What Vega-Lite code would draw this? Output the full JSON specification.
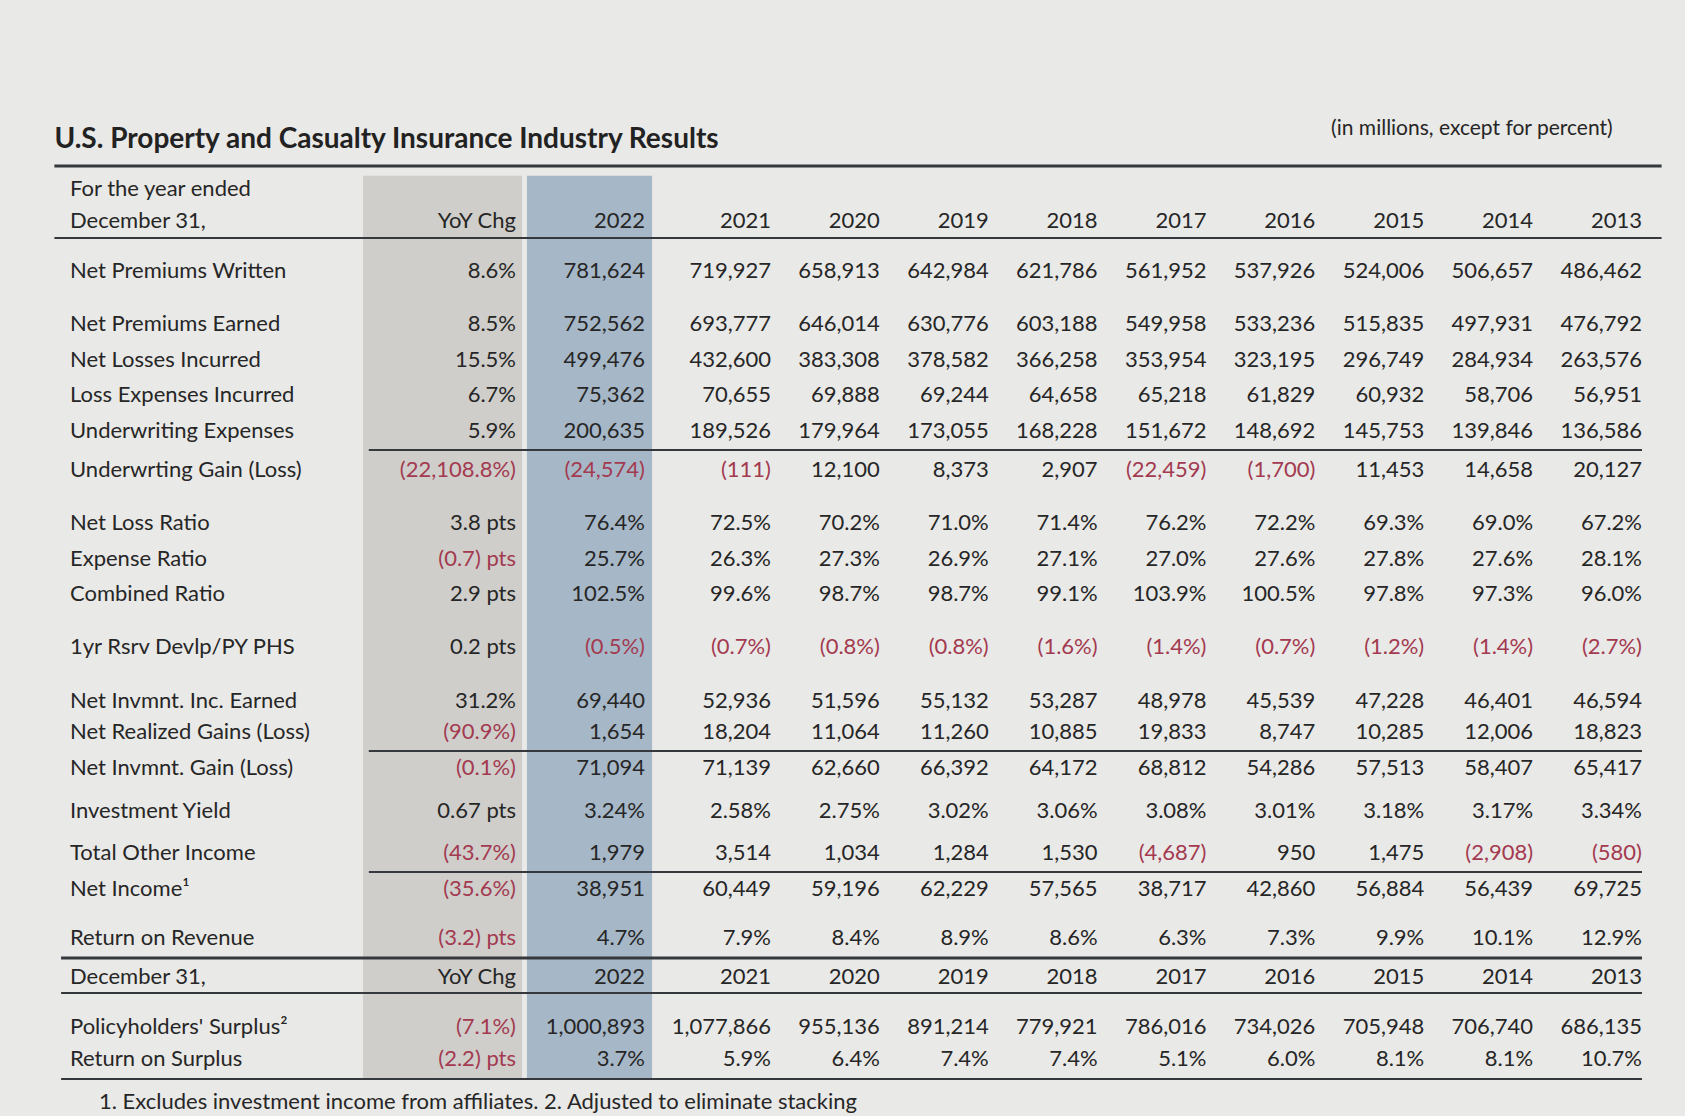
{
  "$schema": "https://vega.github.io/schema/vega-lite/v6.json",
  "width": 1685,
  "height": 1116,
  "padding": 0,
  "autosize": {"type": "fit", "contains": "padding"},
  "background": "#e9e9e7",
  "config": {"view": {"stroke": null}, "text": {"font": "Lato"}},
  "datasets": {
    "cols": [
      {"key": "yoy", "c": 1}, {"key": "y2022", "c": 2}, {"key": "y2021", "c": 3},
      {"key": "y2020", "c": 4}, {"key": "y2019", "c": 5}, {"key": "y2018", "c": 6},
      {"key": "y2017", "c": 7}, {"key": "y2016", "c": 8}, {"key": "y2015", "c": 9},
      {"key": "y2014", "c": 10}, {"key": "y2013", "c": 11}
    ],
    "bands": [
      {"column": "YoY Chg", "from": 0.657, "to": 1.047},
      {"column": "2022", "from": 1.085, "to": 2.056}
    ],
    "notes": [
      {"kind": "title", "text": "U.S. Property and Casualty Insurance Industry Results"},
      {"kind": "unit", "text": "(in millions, except for percent)"},
      {"kind": "footnote", "text": "1. Excludes investment income from affiliates. 2. Adjusted to eliminate stacking"}
    ],
    "rows": [
      {"label": "For the year ended", "line": -2.3},
      {"label": "December 31,", "line": -1.4, "yoy": "YoY Chg", "y2022": "2022", "y2021": "2021", "y2020": "2020", "y2019": "2019", "y2018": "2018", "y2017": "2017", "y2016": "2016", "y2015": "2015", "y2014": "2014", "y2013": "2013"},
      {"label": "Net Premiums Written", "line": 0, "yoy": "8.6%", "y2022": "781,624", "y2021": "719,927", "y2020": "658,913", "y2019": "642,984", "y2018": "621,786", "y2017": "561,952", "y2016": "537,926", "y2015": "524,006", "y2014": "506,657", "y2013": "486,462"},
      {"label": "Net Premiums Earned", "line": 1.5, "yoy": "8.5%", "y2022": "752,562", "y2021": "693,777", "y2020": "646,014", "y2019": "630,776", "y2018": "603,188", "y2017": "549,958", "y2016": "533,236", "y2015": "515,835", "y2014": "497,931", "y2013": "476,792"},
      {"label": "Net Losses Incurred", "line": 2.5, "yoy": "15.5%", "y2022": "499,476", "y2021": "432,600", "y2020": "383,308", "y2019": "378,582", "y2018": "366,258", "y2017": "353,954", "y2016": "323,195", "y2015": "296,749", "y2014": "284,934", "y2013": "263,576"},
      {"label": "Loss Expenses Incurred", "line": 3.5, "yoy": "6.7%", "y2022": "75,362", "y2021": "70,655", "y2020": "69,888", "y2019": "69,244", "y2018": "64,658", "y2017": "65,218", "y2016": "61,829", "y2015": "60,932", "y2014": "58,706", "y2013": "56,951"},
      {"label": "Underwriting Expenses", "line": 4.5, "yoy": "5.9%", "y2022": "200,635", "y2021": "189,526", "y2020": "179,964", "y2019": "173,055", "y2018": "168,228", "y2017": "151,672", "y2016": "148,692", "y2015": "145,753", "y2014": "139,846", "y2013": "136,586"},
      {"label": "Underwrting Gain (Loss)", "line": 5.6, "yoy": "(22,108.8%)", "y2022": "(24,574)", "y2021": "(111)", "y2020": "12,100", "y2019": "8,373", "y2018": "2,907", "y2017": "(22,459)", "y2016": "(1,700)", "y2015": "11,453", "y2014": "14,658", "y2013": "20,127"},
      {"label": "Net Loss Ratio", "line": 7.1, "yoy": "3.8 pts", "y2022": "76.4%", "y2021": "72.5%", "y2020": "70.2%", "y2019": "71.0%", "y2018": "71.4%", "y2017": "76.2%", "y2016": "72.2%", "y2015": "69.3%", "y2014": "69.0%", "y2013": "67.2%"},
      {"label": "Expense Ratio", "line": 8.1, "yoy": "(0.7) pts", "y2022": "25.7%", "y2021": "26.3%", "y2020": "27.3%", "y2019": "26.9%", "y2018": "27.1%", "y2017": "27.0%", "y2016": "27.6%", "y2015": "27.8%", "y2014": "27.6%", "y2013": "28.1%"},
      {"label": "Combined Ratio", "line": 9.1, "yoy": "2.9 pts", "y2022": "102.5%", "y2021": "99.6%", "y2020": "98.7%", "y2019": "98.7%", "y2018": "99.1%", "y2017": "103.9%", "y2016": "100.5%", "y2015": "97.8%", "y2014": "97.3%", "y2013": "96.0%"},
      {"label": "1yr Rsrv Devlp/PY PHS", "line": 10.6, "yoy": "0.2 pts", "y2022": "(0.5%)", "y2021": "(0.7%)", "y2020": "(0.8%)", "y2019": "(0.8%)", "y2018": "(1.6%)", "y2017": "(1.4%)", "y2016": "(0.7%)", "y2015": "(1.2%)", "y2014": "(1.4%)", "y2013": "(2.7%)"},
      {"label": "Net Invmnt. Inc. Earned", "line": 12.1, "yoy": "31.2%", "y2022": "69,440", "y2021": "52,936", "y2020": "51,596", "y2019": "55,132", "y2018": "53,287", "y2017": "48,978", "y2016": "45,539", "y2015": "47,228", "y2014": "46,401", "y2013": "46,594"},
      {"label": "Net Realized Gains (Loss)", "line": 13.0, "yoy": "(90.9%)", "y2022": "1,654", "y2021": "18,204", "y2020": "11,064", "y2019": "11,260", "y2018": "10,885", "y2017": "19,833", "y2016": "8,747", "y2015": "10,285", "y2014": "12,006", "y2013": "18,823"},
      {"label": "Net Invmnt. Gain (Loss)", "line": 14.0, "yoy": "(0.1%)", "y2022": "71,094", "y2021": "71,139", "y2020": "62,660", "y2019": "66,392", "y2018": "64,172", "y2017": "68,812", "y2016": "54,286", "y2015": "57,513", "y2014": "58,407", "y2013": "65,417"},
      {"label": "Investment Yield", "line": 15.2, "yoy": "0.67 pts", "y2022": "3.24%", "y2021": "2.58%", "y2020": "2.75%", "y2019": "3.02%", "y2018": "3.06%", "y2017": "3.08%", "y2016": "3.01%", "y2015": "3.18%", "y2014": "3.17%", "y2013": "3.34%"},
      {"label": "Total Other Income", "line": 16.4, "yoy": "(43.7%)", "y2022": "1,979", "y2021": "3,514", "y2020": "1,034", "y2019": "1,284", "y2018": "1,530", "y2017": "(4,687)", "y2016": "950", "y2015": "1,475", "y2014": "(2,908)", "y2013": "(580)"},
      {"label": "Net Income¹", "line": 17.4, "yoy": "(35.6%)", "y2022": "38,951", "y2021": "60,449", "y2020": "59,196", "y2019": "62,229", "y2018": "57,565", "y2017": "38,717", "y2016": "42,860", "y2015": "56,884", "y2014": "56,439", "y2013": "69,725"},
      {"label": "Return on Revenue", "line": 18.8, "yoy": "(3.2) pts", "y2022": "4.7%", "y2021": "7.9%", "y2020": "8.4%", "y2019": "8.9%", "y2018": "8.6%", "y2017": "6.3%", "y2016": "7.3%", "y2015": "9.9%", "y2014": "10.1%", "y2013": "12.9%"},
      {"label": "December 31,", "line": 19.9, "yoy": "YoY Chg", "y2022": "2022", "y2021": "2021", "y2020": "2020", "y2019": "2019", "y2018": "2018", "y2017": "2017", "y2016": "2016", "y2015": "2015", "y2014": "2014", "y2013": "2013"},
      {"label": "Policyholders' Surplus²", "line": 21.3, "yoy": "(7.1%)", "y2022": "1,000,893", "y2021": "1,077,866", "y2020": "955,136", "y2019": "891,214", "y2018": "779,921", "y2017": "786,016", "y2016": "734,026", "y2015": "705,948", "y2014": "706,740", "y2013": "686,135"},
      {"label": "Return on Surplus", "line": 22.2, "yoy": "(2.2) pts", "y2022": "3.7%", "y2021": "5.9%", "y2020": "6.4%", "y2019": "7.4%", "y2018": "7.4%", "y2017": "5.1%", "y2016": "6.0%", "y2015": "8.1%", "y2014": "8.1%", "y2013": "10.7%"}
    ]
  },
  "layer": [
    {
      "data": {"name": "bands"},
      "mark": {"type": "rect"},
      "encoding": {
        "x": {"field": "from", "type": "quantitative", "axis": null, "scale": {"domain": [0, 1, 2, 3, 11], "range": [70, 516, 645, 771, 1642], "nice": false, "zero": false}},
        "x2": {"field": "to"},
        "y": {"datum": -2.68, "type": "quantitative", "axis": null, "scale": {"domain": [-7.634, 23.803], "reverse": true, "nice": false, "zero": false}},
        "y2": {"datum": 22.76},
        "color": {"field": "column", "type": "nominal", "legend": null, "scale": {"domain": ["YoY Chg", "2022"], "range": ["#cfcecb", "#a6b8c7"]}}
      }
    },
    {
      "data": {"values": [
        {"y": -2.96, "from": -0.035, "to": 11.18, "w": "thick"},
        {"y": -0.93, "from": -0.035, "to": 11.18, "w": "thin"},
        {"y": 5.04, "from": 0.67, "to": 11.0, "w": "thin"},
        {"y": 13.52, "from": 0.67, "to": 11.0, "w": "thin"},
        {"y": 16.93, "from": 0.67, "to": 11.0, "w": "thin"},
        {"y": 19.35, "from": -0.02, "to": 11.0, "w": "thick"},
        {"y": 20.34, "from": -0.02, "to": 11.0, "w": "thin"},
        {"y": 22.76, "from": -0.02, "to": 11.0, "w": "thin"}
      ]},
      "mark": {"type": "rule", "color": "#35393d"},
      "encoding": {
        "x": {"field": "from", "type": "quantitative", "axis": null},
        "x2": {"field": "to"},
        "y": {"field": "y", "type": "quantitative", "axis": null},
        "strokeWidth": {"field": "w", "type": "nominal", "legend": null, "scale": {"domain": ["thick", "thin"], "range": [3, 2]}}
      }
    },
    {
      "data": {"name": "rows"},
      "mark": {"type": "text", "align": "left", "baseline": "middle", "fontSize": 22, "color": "#262626"},
      "encoding": {
        "x": {"datum": 0, "type": "quantitative", "axis": null},
        "y": {"field": "line", "type": "quantitative", "axis": null},
        "text": {"field": "label"}
      }
    },
    {
      "data": {"name": "rows"},
      "transform": [
        {"fold": ["yoy", "y2022", "y2021", "y2020", "y2019", "y2018", "y2017", "y2016", "y2015", "y2014", "y2013"], "as": ["key", "value"]},
        {"filter": "datum.value != null"},
        {"lookup": "key", "from": {"data": {"name": "cols"}, "key": "key", "fields": ["c"]}}
      ],
      "mark": {"type": "text", "align": "right", "baseline": "middle", "fontSize": 22},
      "encoding": {
        "x": {"field": "c", "type": "quantitative", "axis": null},
        "y": {"field": "line", "type": "quantitative", "axis": null},
        "text": {"field": "value"},
        "color": {"condition": {"test": "indexof(datum.value, '(') === 0", "value": "#a33a50"}, "value": "#262626"}
      }
    },
    {
      "data": {"name": "notes"},
      "transform": [{"filter": "datum.kind === 'title'"}],
      "mark": {"type": "text", "align": "left", "baseline": "middle", "fontSize": 28, "fontWeight": "bold", "color": "#222222"},
      "encoding": {
        "x": {"datum": -0.035, "type": "quantitative", "axis": null},
        "y": {"datum": -3.7, "type": "quantitative", "axis": null},
        "text": {"field": "text"}
      }
    },
    {
      "data": {"name": "notes"},
      "transform": [{"filter": "datum.kind === 'unit'"}],
      "mark": {"type": "text", "align": "right", "baseline": "middle", "fontSize": 21, "color": "#262626"},
      "encoding": {
        "x": {"datum": 10.73, "type": "quantitative", "axis": null},
        "y": {"datum": -4.0, "type": "quantitative", "axis": null},
        "text": {"field": "text"}
      }
    },
    {
      "data": {"name": "notes"},
      "transform": [{"filter": "datum.kind === 'footnote'"}],
      "mark": {"type": "text", "align": "left", "baseline": "middle", "fontSize": 22, "color": "#262626"},
      "encoding": {
        "x": {"datum": 0.065, "type": "quantitative", "axis": null},
        "y": {"datum": 23.4, "type": "quantitative", "axis": null},
        "text": {"field": "text"}
      }
    }
  ]
}
